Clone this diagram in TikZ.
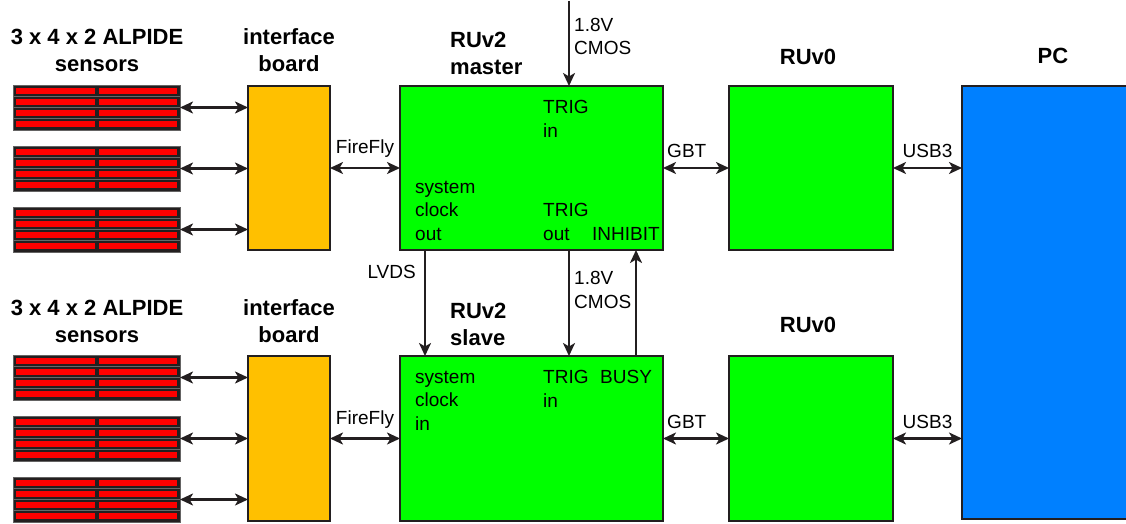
\documentclass[tikz,border=0pt]{standalone}
\usepackage{fontspec}
\setmainfont{Liberation Sans}
\usetikzlibrary{arrows.meta,positioning}

\definecolor{edge}{HTML}{231F20}
\definecolor{chipred}{HTML}{FF0000}
\definecolor{boardorange}{HTML}{FFC000}
\definecolor{rugreen}{HTML}{00FF00}
\definecolor{pcblue}{HTML}{0080FF}

\tikzset{
  box/.style={draw=edge, line width=2pt, inner sep=0pt, outer sep=0pt, anchor=north west},
  stack/.style={fill=edge, draw=gray!70!edge, line width=0.8pt, inner sep=0pt, outer sep=0pt,
    minimum width=167pt, minimum height=45pt, anchor=north west},
  rowline/.style={draw=gray!75!edge, line width=0.8pt},
  link/.style={draw=edge, line width=2.2pt, {Stealth[length=13pt,width=12pt,inset=3.5pt]}-{Stealth[length=13pt,width=12pt,inset=3.5pt]}},
  sig/.style={draw=edge, line width=2.2pt, -{Stealth[length=13pt,width=12pt,inset=3.5pt]}},
  txt/.style={font=\fontsize{19}{23.5}\selectfont, align=left, inner sep=0pt},
  ttl/.style={font=\fontsize{22}{27}\selectfont\bfseries, inner sep=0pt}
}

\begin{document}
\begin{tikzpicture}[x=1pt,y=-1pt]
\useasboundingbox (0,0) rectangle (1126,524);

% sensor stacks
\foreach \s/\y in {1/85,2/146,3/207,4/355,5/416,6/477} {
  \node[stack] (s\s) at (13,\y) {};
  \foreach \r in {0,1,2,3} {
    \fill[chipred] (16,\y+\r*11.25+2.6) rectangle (95,\y+\r*11.25+8.6);
    \fill[chipred] (98.5,\y+\r*11.25+2.6) rectangle (177,\y+\r*11.25+8.6);
  }
  \foreach \r in {1,2,3}
    \draw[rowline] (13,\y+\r*11.25) -- (180,\y+\r*11.25);
}

% boards
\node[box, fill=boardorange, minimum width=82pt, minimum height=164pt] (ib1) at (248,86) {};
\node[box, fill=boardorange, minimum width=82pt, minimum height=165pt] (ib2) at (248,356) {};
\node[box, fill=rugreen, minimum width=263pt, minimum height=164pt] (ma) at (400,86) {};
\node[box, fill=rugreen, minimum width=263pt, minimum height=165pt] (sl) at (400,356) {};
\node[box, fill=rugreen, minimum width=164pt, minimum height=164pt] (r1) at (729,86) {};
\node[box, fill=rugreen, minimum width=164pt, minimum height=165pt] (r2) at (729,356) {};
\node[box, fill=pcblue, minimum width=172pt, minimum height=433pt] (pc) at (962,86) {};

% titles (base = last line)
\node[ttl, align=center, anchor=base] (t1) at (97,72) {3 x 4 x 2 ALPIDE\\sensors};
\node[ttl, align=center, anchor=base] (t2) at (289,72) {interface\\board};
\node[ttl, align=center, anchor=base] (t3) at (97,342) {3 x 4 x 2 ALPIDE\\sensors};
\node[ttl, align=center, anchor=base] (t4) at (289,342) {interface\\board};
\node[ttl, align=left, anchor=base west] (t5) at (450,75) {RUv2\\master};
\node[ttl, align=left, anchor=base west] (t6) at (450,345) {RUv2\\slave};
\node[ttl, anchor=base] (t7) at (808,65) {RUv0};
\node[ttl, anchor=base] (t8) at (808,332) {RUv0};
\node[ttl, anchor=base] (t9) at (1053,64) {PC};

% texts inside the readout units
\node[txt, anchor=base west] (mtin) at (543,137) {TRIG\\in};
\node[txt, anchor=base west] (mclk) at (415,240) {system\\clock\\out};
\node[txt, anchor=base west] (mtout) at (543,240) {TRIG\\out};
\node[txt, anchor=base west] (minh) at (592,240) {INHIBIT};
\node[txt, anchor=base west] (sclk) at (415,430) {system\\clock\\in};
\node[txt, anchor=base west] (stin) at (543,407) {TRIG\\in};
\node[txt, anchor=base west] (sbsy) at (600,383) {BUSY};

% sensors to interface boards
\foreach \s in {1,2,3}
  \draw[link] (s\s.east) -- (s\s.east -| ib1.west);
\foreach \s in {4,5,6}
  \draw[link] (s\s.east) -- (s\s.east -| ib2.west);

% horizontal links
\draw[link] (ib1.east) -- node[txt, above=9pt] {FireFly} (ib1.east -| ma.west);
\draw[link] (ib2.east) -- node[txt, above=9pt] {FireFly} (ib2.east -| sl.west);
\draw[link] (ma.east) -- node[txt, above=9pt, pos=0.36] {GBT} (ma.east -| r1.west);
\draw[link] (sl.east) -- node[txt, above=9pt, pos=0.36] {GBT} (sl.east -| r2.west);
\draw[link] (r1.east) -- node[txt, above=9pt] {USB3} (r1.east -| pc.west);
\draw[link] (r2.east) -- node[txt, above=9pt] {USB3} (r2.east -| pc.west);

% vertical signals
\coordinate (cmos) at (569,1);
\coordinate (lvds) at (425,0);
\coordinate (trig) at (569,0);
\coordinate (busy) at (636,0);
\draw[sig] (cmos) -- (cmos |- ma.north);
\node[txt, anchor=base west] (cmostop) at (574,55) {1.8V\\CMOS};
\draw[sig] (lvds |- ma.south) -- (lvds |- sl.north);
\node[txt, anchor=base east] (lvdslbl) at (416,278) {LVDS};
\draw[sig] (trig |- ma.south) -- (trig |- sl.north);
\node[txt, anchor=base west] (cmosmid) at (574,308) {1.8V\\CMOS};
\draw[sig] (busy |- sl.north) -- (busy |- ma.south);
\end{tikzpicture}
\end{document}
